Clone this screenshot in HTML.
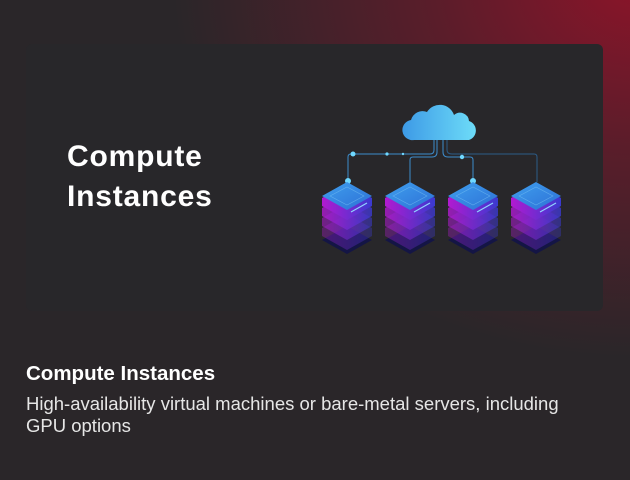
<!DOCTYPE html>
<html><head><style>
html,body{margin:0;padding:0}
body{width:630px;height:480px;overflow:hidden;position:relative;font-family:"Liberation Sans",sans-serif;
background:radial-gradient(ellipse 520px 420px at 640px -20px,#8c1429 0%,#5a1d2a 40%,#2a2629 90%),#28272a;}
.card{position:absolute;left:26px;top:44px;width:577px;height:267px;background:#28272a;border-radius:6px}
.t{position:absolute;left:67px;top:137px;color:#fff;font-weight:bold;font-size:30px;line-height:40px;letter-spacing:0.8px}
.h{position:absolute;left:26px;top:362px;color:#fff;font-weight:bold;font-size:20.5px}
.d{position:absolute;left:26px;top:393px;color:#e6e6e6;font-size:18.5px;line-height:22px;width:560px}
</style></head><body>
<div class="card"></div>
<div class="t">Compute<br>Instances</div>
<svg style="position:absolute;left:0;top:0" width="630" height="480">
<defs>
<linearGradient id="cl" x1="0" x2="1"><stop offset="0" stop-color="#3d9ae6"/><stop offset="1" stop-color="#6ddcf8"/></linearGradient>
<linearGradient id="tp" x1="0" x2="1" y1="0" y2="1"><stop offset="0" stop-color="#3fa0ee"/><stop offset="1" stop-color="#2d6fd6"/></linearGradient>
<linearGradient id="sd" x1="0" x2="1"><stop offset="0" stop-color="#b21ad0"/><stop offset="1" stop-color="#3a3ad0"/></linearGradient>
<g id="srv">
<path d="M-25,240 L0,226 L25,240 L0,254Z" fill="#141545"/>
<path d="M-25,228 L0,214 L25,228 L25,236 L0,250 L-25,236Z" fill="url(#sd)" opacity="0.35"/>
<path d="M-25,218 L0,204 L25,218 L25,226 L0,240 L-25,226Z" fill="url(#sd)" opacity="0.55"/>
<path d="M-25,208 L0,194 L25,208 L25,216 L0,230 L-25,216Z" fill="url(#sd)" opacity="0.8"/>
<path d="M-25,198 L0,184 L25,198 L25,206 L0,220 L-25,206Z" fill="url(#sd)"/>
<path d="M-25,196 L0,182 L25,196 L0,210Z" fill="url(#tp)"/>
<path d="M-17,196 L0,187 L17,196 L0,205Z" fill="none" stroke="#7cc6f5" stroke-width="0.6" opacity="0.6"/>
<path d="M4,212 L20,203" stroke="#8fd4ff" stroke-width="1.2"/>
</g>
</defs>
<g fill="none" stroke="#3d8ccc" stroke-width="1">
<path d="M434,140 v10 q0,4 -4,4 H351 q-3,0 -3,3 v24"/>
<path d="M437,140 v12 q0,5 -5,5 h-19 q-3,0 -3,3 v22"/>
<path d="M443,140 v12 q0,5 5,5 h22 q3,0 3,3 v21"/>
<path d="M447,140 v10 q0,4 5,4 h82 q3,0 3,3 v25" stroke="#2c5c88"/>
</g>
<path d="M414,140 a10,10 0 0 1 -3,-20 a12,12 0 0 1 16,-8 a15,15 0 0 1 27,3 a9,9 0 0 1 15,6 a10,10 0 0 1 0,19Z" fill="url(#cl)"/>
<g fill="#6fd8ff"><circle cx="353" cy="154" r="2.5"/><circle cx="387" cy="154" r="1.6"/><circle cx="403" cy="154" r="1.2"/><circle cx="462" cy="157" r="2.2"/><circle cx="348" cy="181" r="3"/><circle cx="473" cy="181" r="3"/></g>
<use href="#srv" x="347"/><use href="#srv" x="410"/><use href="#srv" x="473"/><use href="#srv" x="536"/>
</svg>
<div class="h">Compute Instances</div>
<div class="d">High-availability virtual machines or bare-metal servers, including GPU options</div>
</body></html>
